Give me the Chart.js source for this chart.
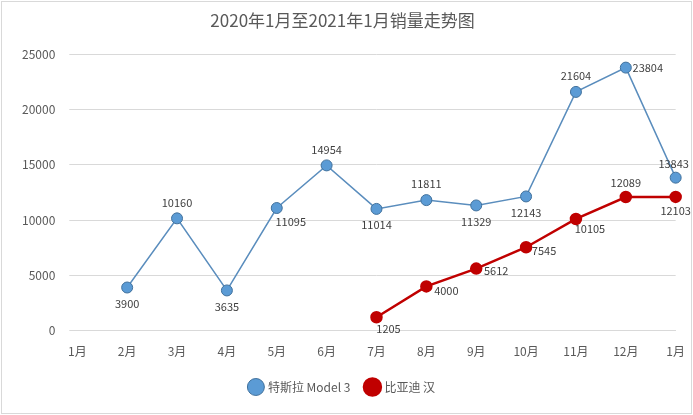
<!DOCTYPE html>
<html><head><meta charset="utf-8">
<script src="https://cdn.jsdelivr.net/npm/chart.js@4"></script>
<style>
html,body{margin:0;background:#fff;}
#box{position:absolute;left:1px;top:1px;width:689px;height:411px;border:1px solid #d9d9d9;}
</style></head>
<body><div id="box"><canvas id="c" width="689" height="411"></canvas></div>
<script>
const meses = ['1月','2月','3月','4月','5月','6月','7月','8月','9月','10月','11月','12月','1月'];
const tesla = [null,3900,10160,3635,11095,14954,11014,11811,11329,12143,21604,23804,13843];
const byd = [null,null,null,null,null,null,1205,4000,5612,7545,10105,12089,12103];
// label placement per point: dx, dy
const teslaPos = [null,[0,16],[0,-16],[0,16],[14,14],[0,-16],[0,16],[0,-16],[0,16],[0,16],[0,-16],[22,0],[-2,-14]];
const bydPos = [null,null,null,null,null,null,[12,12],[20,4],[20,2],[18,4],[14,10],[0,-14],[0,14]];

const etiquetas = {
  id: 'etiquetas',
  afterDatasetsDraw(chart) {
    const ctx = chart.ctx;
    ctx.save();
    ctx.font = '11px "Noto Sans CJK SC", sans-serif';
    ctx.fillStyle = '#404040';
    ctx.textAlign = 'center';
    ctx.textBaseline = 'middle';
    [teslaPos, bydPos].forEach((pos, di) => {
      const meta = chart.getDatasetMeta(di);
      const datos = chart.data.datasets[di].data;
      meta.data.forEach((p, i) => {
        if (datos[i] == null || !pos[i]) return;
        ctx.fillText(datos[i], p.x + pos[i][0], p.y + pos[i][1]);
      });
    });
    ctx.restore();
  }
};

new Chart(document.getElementById('c'), {
  type: 'line',
  data: {
    labels: meses,
    datasets: [
      {label: '特斯拉 Model 3', data: tesla, borderColor: '#5a8dbd', backgroundColor: '#5b9bd5',
       pointBorderColor: '#41719c', pointBorderWidth: 1, pointRadius: 5.5, borderWidth: 1.5},
      {label: '比亚迪 汉', data: byd, borderColor: '#c00000', backgroundColor: '#c00000',
       pointBorderColor: '#c00000', pointRadius: 5, borderWidth: 2.5}
    ]
  },
  options: {
    responsive: false, animation: false,
    layout: {padding: {left: 6, right: 14, top: 0, bottom: 10}},
    plugins: {
      title: {display: true, text: '2020年1月至2021年1月销量走势图', color: '#595959',
        font: {size: 17, family: '"Noto Sans CJK SC", sans-serif', weight: 'normal'}, padding: {top: 8, bottom: 24}},
      legend: {position: 'bottom', labels: {usePointStyle: true, pointStyle: 'circle', color: '#595959',
        font: {size: 12, family: '"Noto Sans CJK SC", sans-serif'}, padding: 16}},
      tooltip: {enabled: false}
    },
    scales: {
      x: {offset: false, grid: {display: false}, border: {color: '#d9d9d9'},
        ticks: {color: '#595959', padding: 6, font: {size: 12, family: '"Noto Sans CJK SC", sans-serif'}}},
      y: {min: 0, max: 25000, grid: {color: '#d9d9d9'}, border: {display: false},
        ticks: {stepSize: 5000, color: '#595959', padding: 14, callback: v => String(v),
          font: {size: 12, family: '"Noto Sans CJK SC", sans-serif'}}}
    }
  },
  plugins: [etiquetas]
});
</script></body></html>
